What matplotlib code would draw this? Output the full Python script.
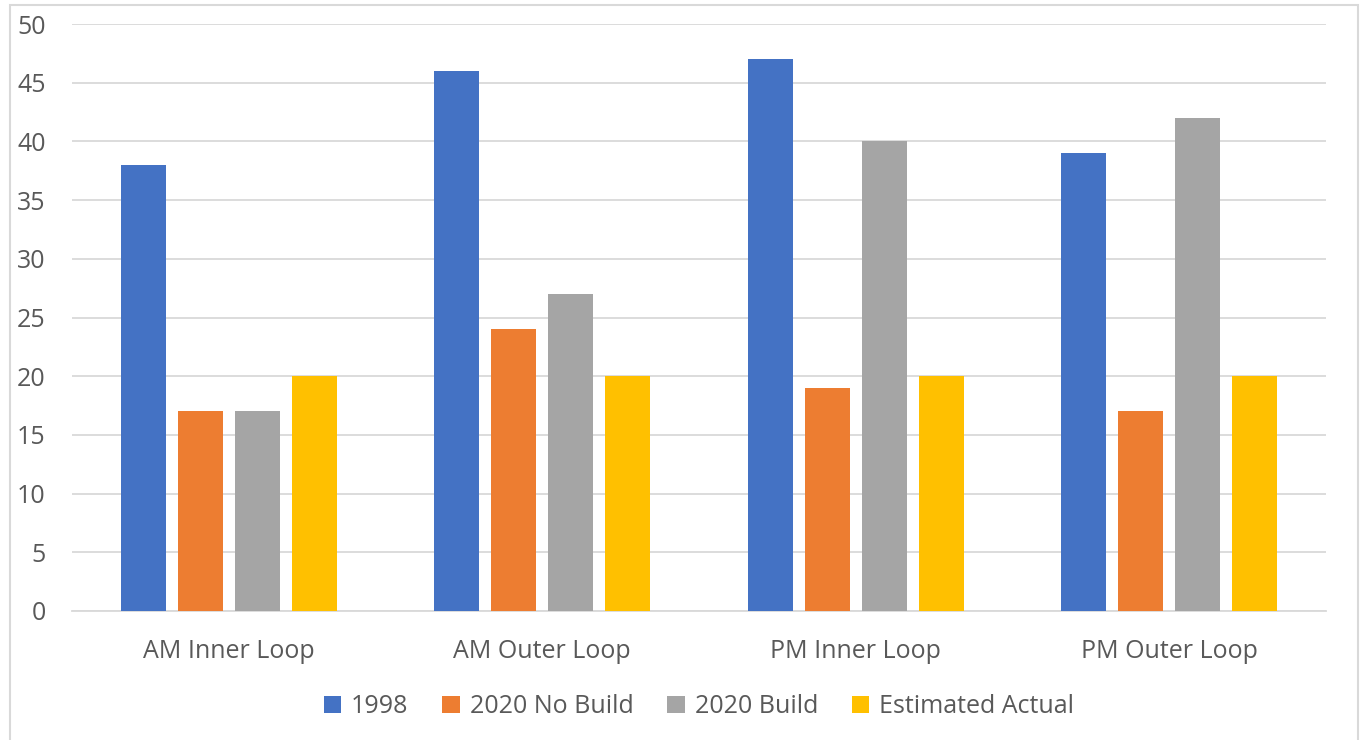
import numpy as np
import matplotlib.pyplot as plt
from matplotlib.patches import Rectangle

categories = ['AM Inner Loop', 'AM Outer Loop', 'PM Inner Loop', 'PM Outer Loop']
series_names = ['1998', '2020 No Build', '2020 Build', 'Estimated Actual']
v1998 = [38, 46, 47, 39]
v_nobuild = [17, 24, 19, 17]
v_build = [17, 27, 40, 42]
v_actual = [20, 20, 20, 20]
colors = ['#4472C4', '#ED7D31', '#A5A5A5', '#FFC000']

plt.rcParams['font.family'] = ['Open Sans', 'DejaVu Sans']

fig = plt.figure(figsize=(13.61, 7.40), dpi=100)
ax = fig.add_axes([72/1361, 1-611/740, (1326-72)/1361, (611-24)/740])

# chart frame
fig.patches.append(Rectangle((10/1361, -0.05), (1358-10)/1361, 1.05 - 5/740,
                             transform=fig.transFigure, fill=False,
                             edgecolor='#D9D9D9', linewidth=1.5))

x = np.arange(len(categories))
width = 0.1435
step = 0.1818
all_vals = [v1998, v_nobuild, v_build, v_actual]
for i, (vals, name, c) in enumerate(zip(all_vals, series_names, colors)):
    ax.bar(x + (i - 1.5) * step, vals, width, color=c, label=name, zorder=3)

ax.set_xlim(-0.5, 3.5)
ax.set_ylim(0, 50)
ax.set_yticks(range(0, 51, 5))
ax.set_xticks(x)
ax.set_xticklabels(categories)
ax.yaxis.grid(True, color='#D9D9D9', linewidth=1.3, zorder=0)
for s in ['top', 'right', 'left']:
    ax.spines[s].set_visible(False)
ax.spines['bottom'].set_color('#D9D9D9')
ax.spines['bottom'].set_linewidth(1.3)
ax.tick_params(axis='both', length=0, labelsize=18, colors='#595959')
ax.tick_params(axis='y', pad=19)
ax.tick_params(axis='x', pad=20)

leg = ax.legend(loc='center', bbox_to_anchor=(0.5, -0.163), ncol=4, frameon=False,
                fontsize=18, handlelength=0.7, handleheight=0.7, handletextpad=0.4,
                columnspacing=1.35)
for t in leg.get_texts():
    t.set_color('#595959')

fig.savefig('out.png', dpi=100)
